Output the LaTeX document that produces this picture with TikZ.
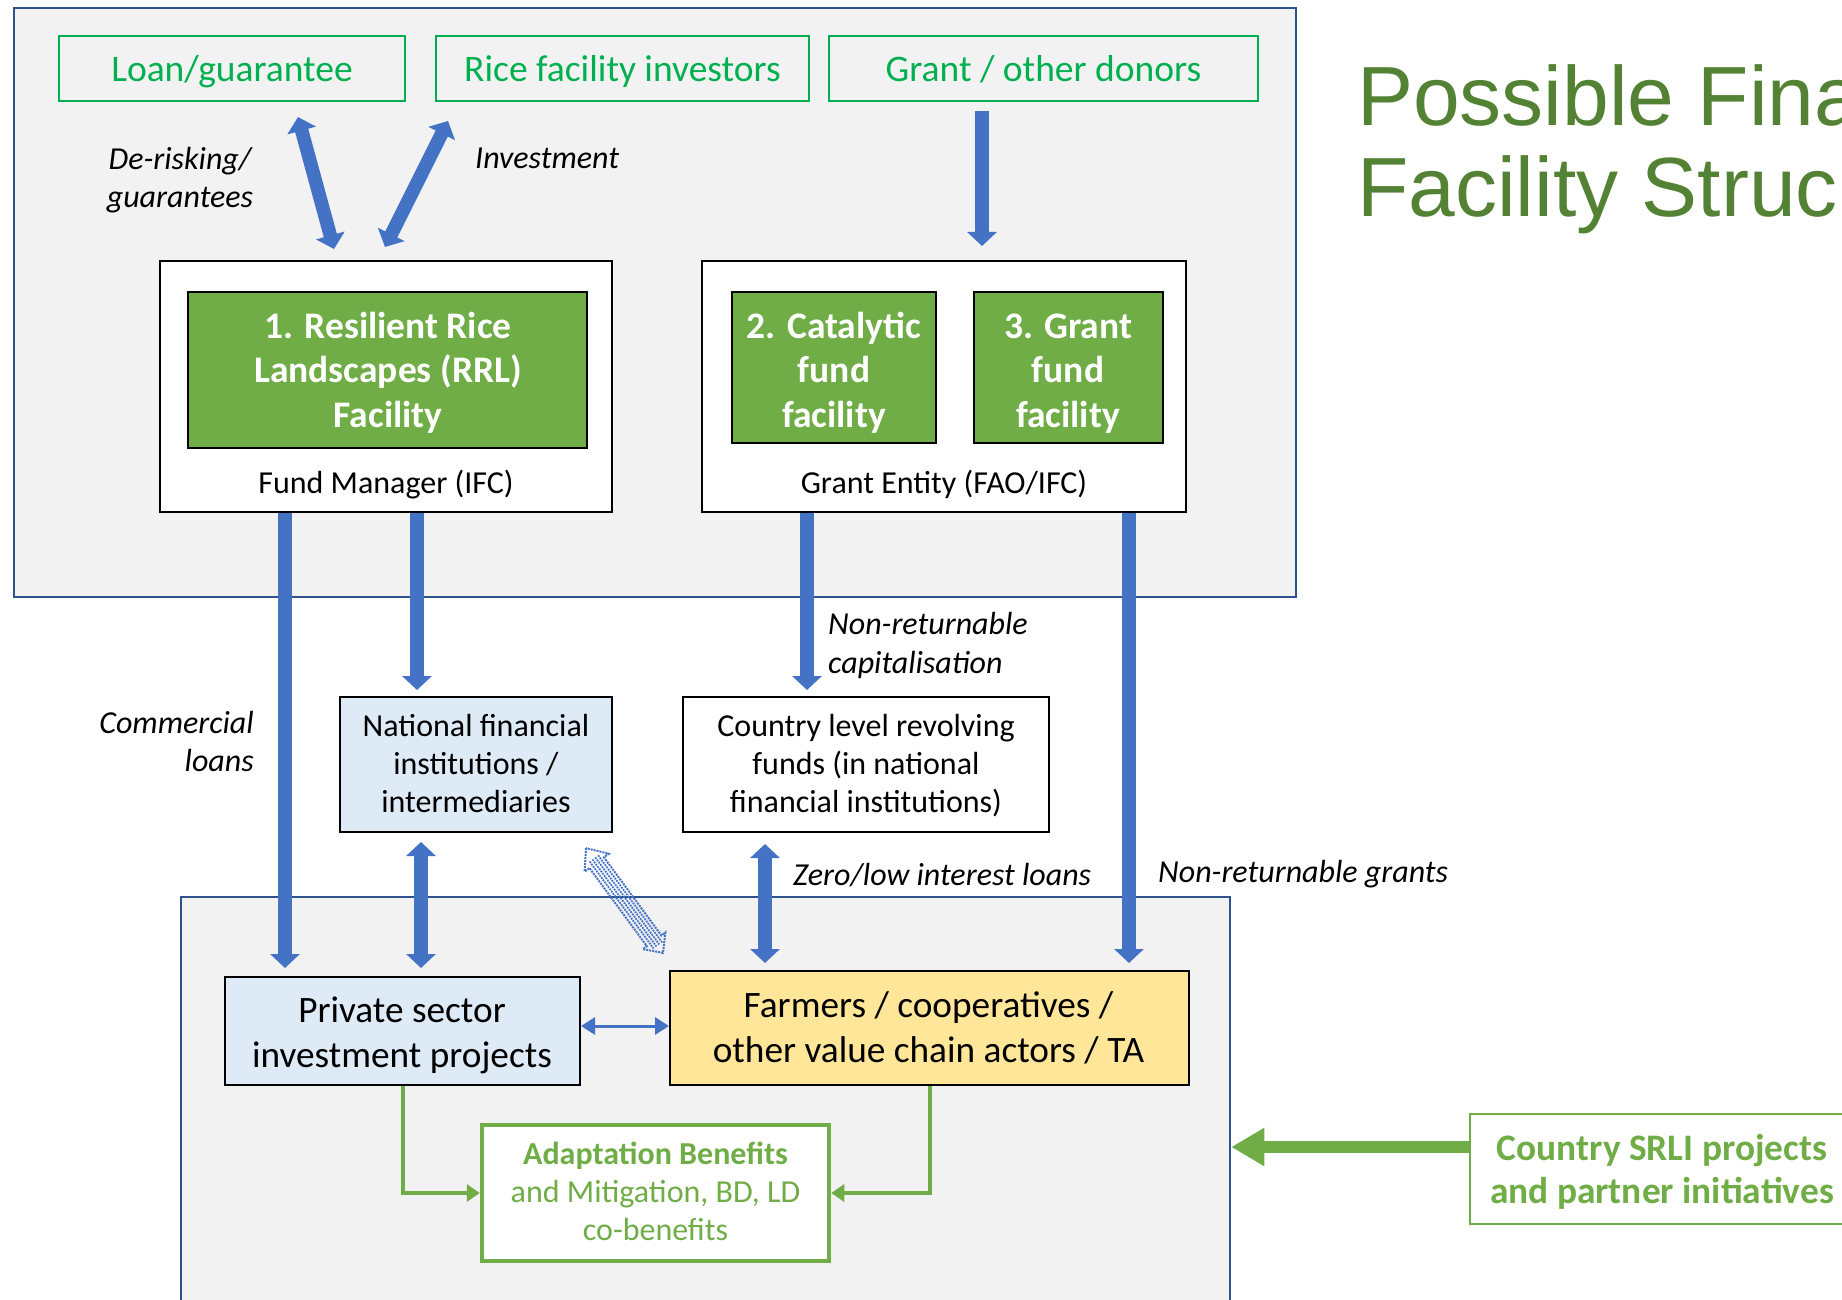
\documentclass[tikz,border=0pt]{standalone}
\usepackage{fontspec}
\setmainfont{Carlito}
\newfontfamily\titlefont{Liberation Sans}
\usetikzlibrary{arrows.meta,calc}
\definecolor{arrowblue}{RGB}{68,114,196}
\definecolor{frameblue}{RGB}{47,82,143}
\definecolor{panelgray}{RGB}{242,242,242}
\definecolor{brightgreen}{RGB}{0,176,80}
\definecolor{boxgreen}{RGB}{112,173,71}
\definecolor{titlegreen}{RGB}{84,130,53}
\definecolor{lightblue}{RGB}{222,235,247}
\definecolor{lightyellow}{RGB}{255,230,153}
\newcommand{\firststrut}{\rule{0pt}{32pt}}
\begin{document}
\begin{tikzpicture}[x=1pt,y=-1pt,
  frame/.style={draw=frameblue, line width=2.5pt, fill=panelgray, inner sep=0},
  topbox/.style={draw=brightgreen, line width=2pt, text=brightgreen, font=\fontsize{37.5}{44}\selectfont, minimum height=65, inner sep=0, text height=31pt, text depth=4pt},
  wbox/.style={draw=black, line width=2pt, fill=white, inner sep=0},
  gbox/.style={draw=black, line width=2.5pt, fill=boxgreen, inner sep=0},
  gtext/.style={anchor=north, inner sep=0, align=center, text=white, font=\bfseries\fontsize{37.5}{44.7}\selectfont},
  mtext/.style={anchor=north, inner sep=0, align=center},
  lab/.style={font=\itshape\fontsize{32}{38.5}\selectfont, inner sep=0},
  bluearrow/.style={draw=arrowblue, line width=13.5pt, -{Triangle[width=29pt,length=14pt]}},
  dblarrow/.style={draw=arrowblue, line width=13.5pt, {Triangle[width=29pt,length=14pt]}-{Triangle[width=29pt,length=14pt]}},
  greenconn/.style={draw=boxgreen, line width=4pt, -{Triangle[width=17pt,length=13pt]}},
]
\useasboundingbox (0,0) rectangle (1842,1300);

% frames
\node[frame, minimum width=1282, minimum height=589] (topframe) at (655,302.5) {};
\node[frame, minimum width=1049, minimum height=433] (botframe) at (705.5,1113.5) {};

% title
\node[anchor=base west, inner sep=0, text=titlegreen, font=\titlefont\fontsize{84}{91}\selectfont] (title1) at (1357,126) {Possible Fina};
\node[anchor=base west, inner sep=0, text=titlegreen, font=\titlefont\fontsize{84}{91}\selectfont] (title2) at (1357,217) {Facility Struc};

% top source boxes
\node[topbox, minimum width=346] (loan) at (232,68.5) {Loan/guarantee};
\node[topbox, minimum width=373] (rice) at (622.5,68.5) {Rice facility investors};
\node[topbox, minimum width=429] (grant) at (1043.5,68.5) {Grant / other donors};

% fund manager and grant entity
\node[wbox, minimum width=452, minimum height=251] (fm) at (386,386.5) {};
\node[gbox, minimum width=399, minimum height=156] (rrl) at (387.5,370) {};
\node[gtext] (rrltxt) at (388,306) {\firststrut 1. Resilient Rice\\Landscapes (RRL)\\Facility};
\node[anchor=base, inner sep=0, font=\fontsize{32}{38}\selectfont] (fmlab) at (386,493.5) {Fund Manager (IFC)};

\node[wbox, minimum width=484, minimum height=251] (ge) at (944,386.5) {};
\node[gbox, minimum width=204, minimum height=151] (cat) at (834,367.5) {};
\node[gtext] (cattxt) at (834,306) {\firststrut 2. Catalytic\\fund\\facility};
\node[gbox, minimum width=189, minimum height=151] (gf) at (1068.5,367.5) {};
\node[gtext] (gftxt) at (1068,306) {\firststrut 3. Grant\\fund\\facility};
\node[anchor=base, inner sep=0, font=\fontsize{32}{38}\selectfont] (gelab) at (944,493.5) {Grant Entity (FAO/IFC)};

% intermediate boxes
\node[wbox, fill=lightblue, minimum width=272, minimum height=135] (nfi) at (476,764.5) {};
\node[mtext, font=\fontsize{32}{38.2}\selectfont] (nfitxt) at (476,704) {\firststrut National financial\\institutions /\\intermediaries};
\node[wbox, fill=white, minimum width=366, minimum height=135] (clr) at (866,764.5) {};
\node[mtext, font=\fontsize{32}{38.2}\selectfont] (clrtxt) at (866,704) {\firststrut Country level revolving\\funds (in national\\financial institutions)};

% bottom boxes
\node[wbox, fill=lightblue, minimum width=355, minimum height=108] (priv) at (402.5,1031) {};
\node[mtext, font=\fontsize{37.3}{44.7}\selectfont] (privtxt) at (402,990.3) {\firststrut Private sector\\investment projects};
\node[wbox, fill=lightyellow, minimum width=519, minimum height=114] (farm) at (929.5,1028) {};
\node[mtext, font=\fontsize{37.3}{45.3}\selectfont] (farmtxt) at (928.5,985) {\firststrut Farmers / cooperatives /\\other value chain actors / TA};
\node[draw=boxgreen, line width=4.5pt, fill=white, inner sep=0, minimum width=347, minimum height=136] (adapt) at (655.5,1193) {};
\node[mtext, text=boxgreen, font=\fontsize{32}{38.2}\selectfont] (adapttxt) at (655.5,1132) {\firststrut\textbf{Adaptation Benefits}\\and Mitigation, BD, LD\\co-benefits};
\node[draw=boxgreen, line width=2pt, fill=white, inner sep=0, minimum width=384, minimum height=110] (srli) at (1662,1169) {};
\node[mtext, text=boxgreen, font=\bfseries\fontsize{37.4}{43.5}\selectfont] (srlitxt) at (1662,1128) {\firststrut Country SRLI projects\\and partner initiatives};

% labels
\node[lab, anchor=north, align=center] (lderisk) at (180,137) {\firststrut De-risking/\\guarantees};
\node[lab, anchor=base west] (linvest) at (475,169) {Investment};
\node[lab, anchor=north west, align=left] (lcap) at (828,602.5) {\firststrut Non-returnable\\capitalisation};
\node[lab, anchor=north east, align=right] (lcomm) at (254,701) {\firststrut Commercial\\loans};
\node[lab, anchor=base west] (lzero) at (793,885.5) {Zero/low interest loans};
\node[lab, anchor=base west] (lgrants) at (1158,882) {Non-returnable grants};

% named positions
\coordinate (dr1) at (298,117);
\coordinate (dr2) at (334,249);
\coordinate (iv1) at (448,121);
\coordinate (iv2) at (385,247);
\coordinate (xg) at (982,0);
\coordinate (xc) at (285,0);
\coordinate (xn) at (417,0);
\coordinate (xr) at (807,0);
\coordinate (xf) at (1129,0);
\coordinate (xnp) at (421,0);
\coordinate (xcf) at (765,0);
\coordinate (yh) at (0,1026);
\coordinate (ysr) at (0,1147);

% blue arrows
\draw[dblarrow] (dr1) -- (dr2);
\draw[dblarrow] (iv1) -- (iv2);
\draw[bluearrow, shorten <=9pt, shorten >=14pt] (grant.south -| xg) -- (ge.north -| xg);
\draw[bluearrow, shorten >=8pt] (fm.south -| xc) -- (priv.north -| xc);
\draw[bluearrow, shorten >=6pt] (fm.south -| xn) -- (nfi.north -| xn);
\draw[bluearrow, shorten >=6pt] (ge.south -| xr) -- (clr.north -| xr);
\draw[bluearrow, shorten >=7pt] (ge.south -| xf) -- (farm.north -| xf);
\draw[dblarrow, shorten <=9pt, shorten >=8pt] (nfi.south -| xnp) -- (priv.north -| xnp);
\draw[dblarrow, shorten <=11pt, shorten >=7pt] (clr.south -| xcf) -- (farm.north -| xcf);
\draw[draw=arrowblue, line width=3pt, {Triangle[width=17pt,length=14pt]}-{Triangle[width=17pt,length=14pt]}] (priv.east |- yh) -- (farm.west |- yh);

% dotted diagonal double arrow
\begin{scope}[shift={(624.5,900.5)}, rotate=-53.7]
  \draw[arrowblue, densely dotted, line width=2pt]
    (-65,0) -- (-47,15) -- (-47,9) -- (50,9) -- (50,14) -- (65,0) -- (50,-14) -- (50,-9) -- (-47,-9) -- (-47,-15) -- cycle;
  \foreach \yy in {-5.5,-2,1.5,5} {
    \draw[arrowblue, densely dotted, line width=1.8pt] (-52,\yy) -- (56,\yy);
  }
\end{scope}

% green connectors
\draw[greenconn] (priv.south) |- (adapt.west);
\draw[greenconn] (farm.south) |- (adapt.east);
\draw[draw=boxgreen, line width=12pt, -{Triangle[width=36pt,length=33pt]}] (srli.west |- ysr) -- (botframe.east |- ysr);
\end{tikzpicture}
\end{document}
